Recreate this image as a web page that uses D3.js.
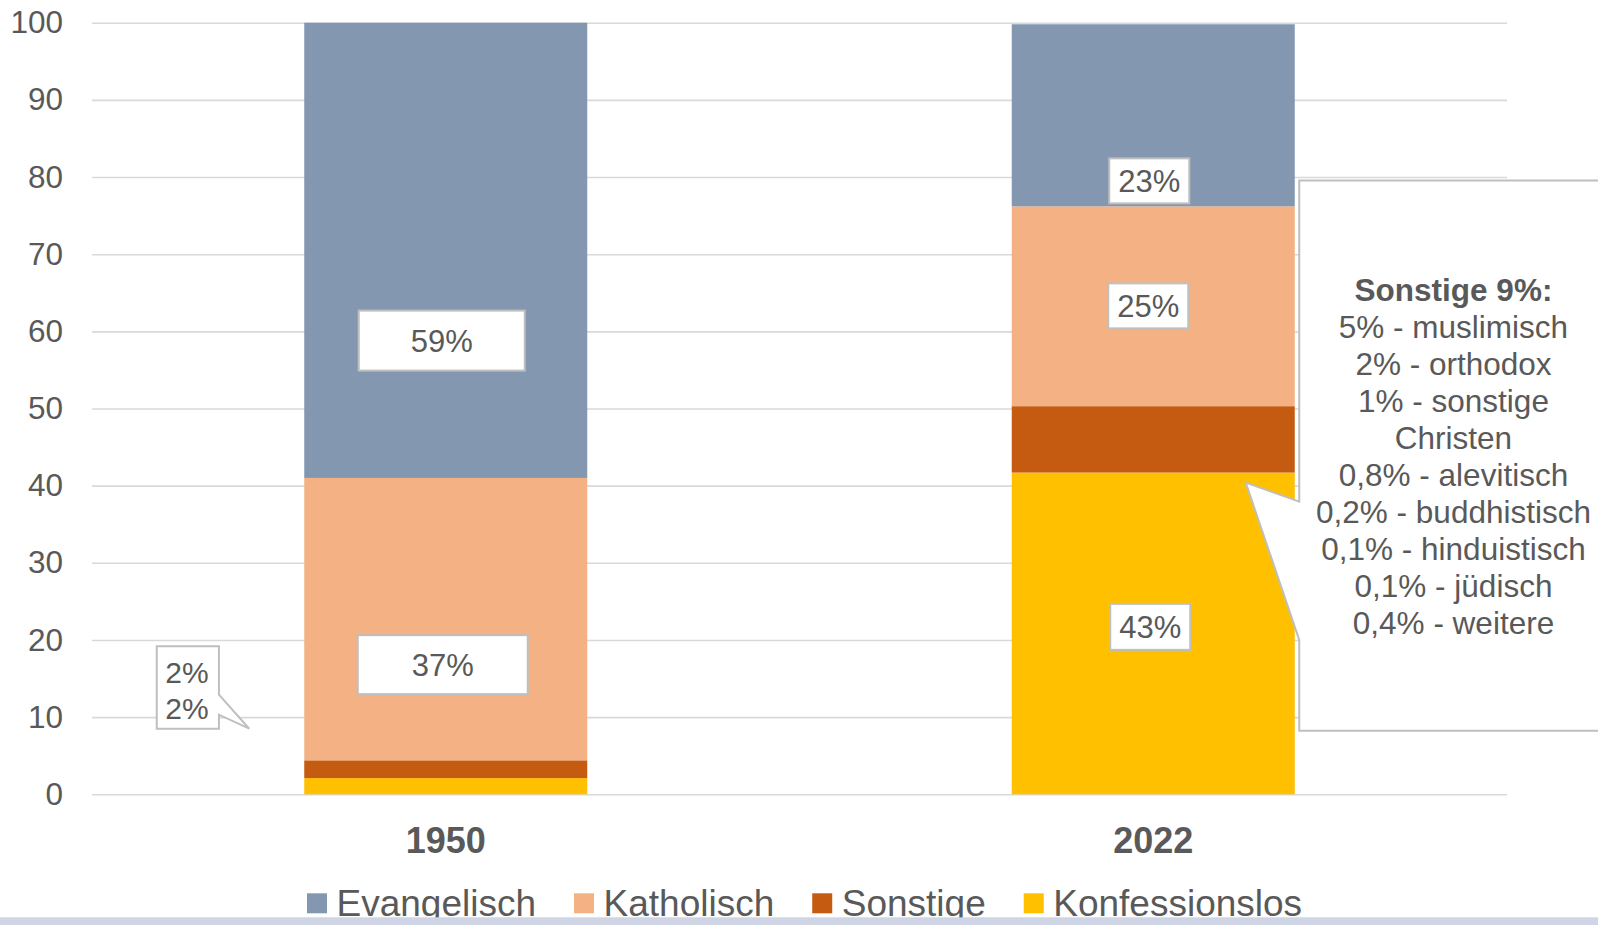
<!DOCTYPE html>
<html>
<head>
<meta charset="utf-8">
<script src="https://cdn.jsdelivr.net/npm/d3@7"></script>
<style>
  html, body { margin: 0; padding: 0; background: #fff; }
  svg { display: block; font-family: "Liberation Sans", Arial, sans-serif; }
</style>
</head>
<body>
<div id="chart"></div>
<script>
// Werte (Prozent) je Jahr
const years = ["1950", "2022"];
const categories = ["Evangelisch", "Katholisch", "Sonstige", "Konfessionslos"];
const colors = ["#8497B0", "#F4B183", "#C55A11", "#FFC000"];
const evangelisch = [59.0, 23.6];
const katholisch = [36.6, 25.9];
const sonstige = [2.3, 8.6];
const konfessionslos = [2.1, 41.7];
const yTicks = [0, 10, 20, 30, 40, 50, 60, 70, 80, 90, 100];

// Beschriftungen
const barLabels = [
  { year: "1950", key: "Evangelisch", text: "59%" },
  { year: "1950", key: "Katholisch", text: "37%" },
  { year: "2022", key: "Evangelisch", text: "23%" },
  { year: "2022", key: "Katholisch", text: "25%" },
  { year: "2022", key: "Konfessionslos", text: "43%" }
];
const smallNote = ["2%", "2%"];
const sonstigeTitle = "Sonstige 9%:";
const sonstigeLines = [
  "5% - muslimisch",
  "2% - orthodox",
  "1% - sonstige",
  "Christen",
  "0,8% - alevitisch",
  "0,2% - buddhistisch",
  "0,1% - hinduistisch",
  "0,1% - jüdisch",
  "0,4% - weitere"
];

const width = 1598;
const height = 925;
const textColor = "#595959";
const boxStroke = "#BFBFBF";

const table = years.map((y, i) => ({
  year: y,
  Evangelisch: evangelisch[i],
  Katholisch: katholisch[i],
  Sonstige: sonstige[i],
  Konfessionslos: konfessionslos[i]
}));

const color = d3.scaleOrdinal().domain(categories).range(colors);

const svg = d3.select("#chart")
  .append("svg")
  .attr("width", width)
  .attr("height", height);

const x = d3.scaleBand()
  .domain(years)
  .range([92, 1507])
  .paddingInner(0.6)
  .paddingOuter(0.3);

const y = d3.scaleLinear()
  .domain([0, 100])
  .range([794.3, 22.7]);

// Gitternetz + y-Achse
const yAxis = svg.append("g")
  .attr("transform", "translate(92,0)")
  .call(d3.axisLeft(y).tickValues(yTicks).tickSize(-1415).tickPadding(29));
yAxis.select(".domain").remove();
yAxis.selectAll(".tick line").attr("stroke", "#D9D9D9").attr("stroke-width", 1.6);
yAxis.selectAll(".tick text")
  .attr("fill", textColor)
  .style("font-size", "31.5px")
  .style("font-family", "Liberation Sans, Arial, sans-serif");

// Gestapelte Balken (unten -> oben)
const stackKeys = ["Konfessionslos", "Sonstige", "Katholisch", "Evangelisch"];
const series = d3.stack().keys(stackKeys)(table);

svg.append("g")
  .selectAll("g")
  .data(series)
  .join("g")
  .attr("fill", d => color(d.key))
  .selectAll("rect")
  .data(d => d)
  .join("rect")
  .attr("x", d => x(d.data.year))
  .attr("width", x.bandwidth())
  .attr("y", d => y(d[1]))
  .attr("height", d => y(d[0]) - y(d[1]));

// x-Achse (Jahre)
svg.append("g")
  .selectAll("text")
  .data(years)
  .join("text")
  .attr("x", d => x(d) + x.bandwidth() / 2)
  .attr("y", 853)
  .attr("text-anchor", "middle")
  .attr("fill", textColor)
  .style("font-size", "36px")
  .style("font-weight", "bold")
  .text(d => d);

// Datenbeschriftungen in Kästchen (Lage von Hand wie im Original)
const labelPlace = {
  "1950|Evangelisch": { v: 58.8, dx: -4, w: 166, h: 60 },
  "1950|Katholisch": { v: 16.8, dx: -3, w: 170, h: 59 },
  "2022|Evangelisch": { v: 79.5, dx: -4, w: 80, h: 45 },
  "2022|Katholisch": { v: 63.3, dx: -5, w: 80, h: 45 },
  "2022|Konfessionslos": { v: 21.7, dx: -3, w: 80, h: 46 }
};

const lab = svg.append("g")
  .selectAll("g")
  .data(barLabels)
  .join("g")
  .attr("transform", d => {
    const p = labelPlace[d.year + "|" + d.key];
    return `translate(${x(d.year) + x.bandwidth() / 2 + p.dx},${y(p.v)})`;
  });

lab.append("rect")
  .attr("x", d => -labelPlace[d.year + "|" + d.key].w / 2)
  .attr("y", d => -labelPlace[d.year + "|" + d.key].h / 2)
  .attr("width", d => labelPlace[d.year + "|" + d.key].w)
  .attr("height", d => labelPlace[d.year + "|" + d.key].h)
  .attr("fill", "#fff")
  .attr("stroke", boxStroke)
  .attr("stroke-width", 2);

lab.append("text")
  .attr("text-anchor", "middle")
  .attr("dy", "0.36em")
  .attr("fill", textColor)
  .style("font-size", "31px")
  .text(d => d.text);

// kleine Sprechblase links (2% / 2%)
const tip1 = { x: x("1950") - 55, y: y(8.5) };
const b1 = { l: tip1.x - 92.5, r: tip1.x - 30.3, t: tip1.y - 82.5, b: tip1.y };
svg.append("path")
  .attr("d", `M${b1.l},${b1.t} H${b1.r} V${tip1.y - 34} L${tip1.x},${tip1.y} L${b1.r},${tip1.y - 14} V${b1.b} H${b1.l} Z`)
  .attr("fill", "#fff")
  .attr("stroke", boxStroke)
  .attr("stroke-width", 2)
  .attr("stroke-linejoin", "miter");

svg.append("g")
  .selectAll("text")
  .data(smallNote)
  .join("text")
  .attr("x", b1.l + 8.5)
  .attr("y", (d, i) => b1.t + 36.6 + i * 36)
  .attr("fill", textColor)
  .style("font-size", "30px")
  .text(d => d);

// große Sprechblase rechts (Sonstige 9%)
const tip2 = { x: x("2022") + 234, y: y(40.4) };
const b2 = { l: x("2022") + x.bandwidth() + 4.5, r: 1610, t: 180.5, b: 730.7 };
svg.append("path")
  .attr("d", `M${b2.l},${b2.t} H${b2.r} V${b2.b} H${b2.l} V640 L${tip2.x},${tip2.y} L${b2.l},501.7 Z`)
  .attr("fill", "#fff")
  .attr("stroke", boxStroke)
  .attr("stroke-width", 2);

const callout = svg.append("g")
  .attr("fill", textColor)
  .attr("text-anchor", "middle")
  .style("font-size", "31.5px");

callout.append("text")
  .attr("x", 1453.5)
  .attr("y", 300.6)
  .style("font-weight", "bold")
  .text(sonstigeTitle);

callout.selectAll("text.line")
  .data(sonstigeLines)
  .join("text")
  .attr("class", "line")
  .attr("x", 1453.5)
  .attr("y", (d, i) => 337.7 + i * 37)
  .text(d => d);

// Legende
const legend = svg.append("g");
let lx = 307;
categories.forEach((c, i) => {
  legend.append("rect")
    .attr("x", lx)
    .attr("y", 893.3)
    .attr("width", 20)
    .attr("height", 20)
    .attr("fill", colors[i]);
  const t = legend.append("text")
    .attr("x", lx + 29.5)
    .attr("y", 916)
    .attr("fill", textColor)
    .style("font-size", "37px")
    .text(c);
  lx += 29.5 + t.node().getComputedTextLength() + 38;
});

// Randstreifen unten
svg.append("rect")
  .attr("x", 0)
  .attr("y", 917.3)
  .attr("width", width)
  .attr("height", height - 917.3)
  .attr("fill", "#CFD5E4");
</script>
</body>
</html>
